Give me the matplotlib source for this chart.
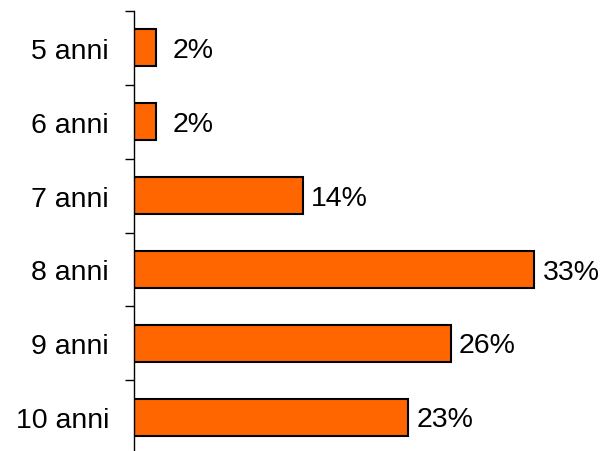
import numpy as np
import matplotlib
matplotlib.use("Agg")
import matplotlib.pyplot as plt
from matplotlib.ticker import FixedLocator

# ─── Data ────────────────────────────────────────────────────────────────────
categories = ["5 anni", "6 anni", "7 anni", "8 anni", "9 anni", "10 anni"]
values = [1.8, 1.8, 13.9, 33.0, 26.1, 22.6]
labels = ["2%", "2%", "14%", "33%", "26%", "23%"]

plt.rcParams["font.family"] = ["Liberation Sans", "DejaVu Sans"]

W, H = 605, 452
fig = plt.figure(figsize=(W / 100, H / 100), dpi=100)
ax = fig.add_axes([134 / W, (H - 455) / H, (600 - 134) / W, (455 - 12) / H])

y = np.arange(len(categories))
bars = ax.barh(y, values, height=0.5, color="#FF6600",
               edgecolor="black", linewidth=1.5)

# labels are centred a fixed distance past the bar end
for b, lab in zip(bars, labels):
    ax.annotate(lab, (b.get_width(), b.get_y() + b.get_height() / 2),
                xytext=(26.5, -1.5), textcoords="offset points",
                ha="center", va="center", fontsize=20.5)

ax.set_ylim(len(categories) - 0.5, -0.5)
ax.set_xlim(0, 38.4)
ax.set_yticks(y)
ax.set_yticklabels(categories, fontsize=20.5)
ax.tick_params(axis="y", which="major", length=0, pad=18)
ax.yaxis.set_minor_locator(FixedLocator(np.arange(-0.5, len(categories), 1.0)))
ax.tick_params(axis="y", which="minor", length=6.5, width=1)
ax.set_xticks([])
for s in ["top", "right", "bottom"]:
    ax.spines[s].set_visible(False)
ax.spines["left"].set_linewidth(1)

fig.savefig("out.png", dpi=100)
